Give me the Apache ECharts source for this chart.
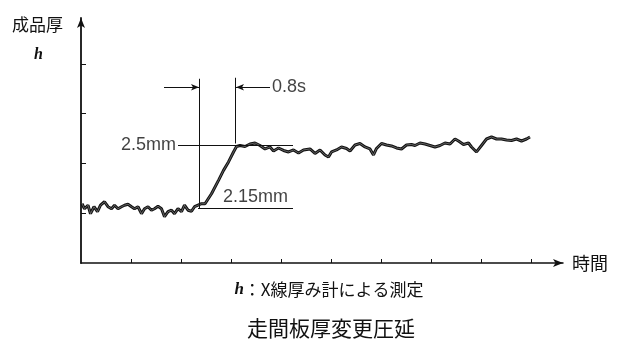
<!DOCTYPE html>
<html><head><meta charset="utf-8">
<script src="https://cdn.jsdelivr.net/npm/echarts@6/dist/echarts.min.js"></script>
<style>html,body{margin:0;padding:0;background:#fff}#c{width:640px;height:342px}</style>
</head><body><div id="c"></div>
<script>
// ---- data (abstract units: one axis tick = 1 unit) ----
const timeX = [0.02,0.07,0.14,0.19,0.26,0.33,0.39,0.47,0.54,0.61,0.67,0.74,0.81,0.87,0.94,1.01,1.07,1.14,1.21,1.27,
  1.34,1.41,1.47,1.54,1.61,1.67,1.74,1.81,1.87,1.94,2.01,2.07,2.14,2.21,2.27,2.34,2.41,
  2.48,2.61,2.75,2.85,2.95,3.05,3.11,3.18,3.28,3.38,3.48,3.58,3.68,3.78,3.85,3.95,4.05,4.15,4.25,4.35,4.45,
  4.58,4.68,4.78,4.88,4.95,5.01,5.11,5.21,5.31,5.38,5.48,5.58,5.68,5.78,5.85,5.91,6.01,6.11,6.21,6.31,6.41,6.51,6.61,
  6.68,6.78,6.88,6.98,7.08,7.18,7.28,7.38,7.48,7.55,7.65,7.75,7.81,7.91,8.01,8.11,8.21,8.31,8.41,8.51,8.61,8.71,8.81,8.91,8.98];
const thickness = [1.19,1.09,1.16,0.99,1.13,1.03,1.16,1.23,1.13,1.09,1.16,1.09,1.13,1.16,1.18,1.13,1.09,1.13,0.99,1.09,
  1.13,1.06,1.09,1.14,1.09,0.93,1.03,1.06,0.99,1.09,1.03,1.16,1.06,1.04,1.13,1.16,1.19,
  1.19,1.39,1.66,1.86,2.03,2.23,2.34,2.36,2.34,2.39,2.41,2.36,2.29,2.33,2.25,2.31,2.26,2.23,2.27,2.21,2.27,
  2.29,2.20,2.27,2.17,2.13,2.23,2.27,2.33,2.30,2.25,2.37,2.40,2.33,2.29,2.17,2.30,2.40,2.37,2.35,2.31,2.29,2.37,2.38,
  2.36,2.41,2.39,2.36,2.33,2.36,2.41,2.39,2.49,2.45,2.38,2.41,2.33,2.23,2.36,2.49,2.53,2.49,2.49,2.47,2.46,2.49,2.45,2.49,2.53];
const xTicks = [1,2,3,4,5,6,7,8,9];
const yTicks = [1,2,3,4];
const xMax = 9.64, yMax = 4.92;

// annotation guide lines (data units)
const guideV1 = [[2.37,3.70],[2.37,1.10]];
const guideV2 = [[3.08,3.72],[3.08,2.40]];
const arrowLeft = [[1.66,3.53],[2.36,3.53]];
const arrowRight = [[3.78,3.53],[3.10,3.53]];
const level25 = [[1.94,2.36],[4.24,2.36]];
const level215 = [[2.34,1.10],[4.24,1.10]];
const annTexts = ['2.5mm','2.15mm','0.8s'];
const annPos = [[1.92,2.36],[3.49,1.32],[3.80,3.53]];

const yName = '成品厚', yVar = 'h', xName = '時間';
const caption = '：X線厚み計による測定';
const titleText = '走間板厚変更圧延';

const lineData = timeX.map((x,i)=>[x, thickness[i]]);
const seg = (p, arrow) => [
  {coord:p[0], symbol:'none'},
  {coord:p[1], symbol: arrow ? 'arrow' : 'none', symbolSize:[5,8]}
];
const latin = 'Liberation Sans, Arial, sans-serif';
const cjk = '"Noto Sans CJK JP", sans-serif';

const chart = echarts.init(document.getElementById('c'), null, {renderer:'canvas'});
chart.setOption({
  animation:false,
  backgroundColor:'#fff',
  grid:{left:81, right:77, top:18, bottom:79},
  title:[
    {text:'{h|h}'+caption, left:324, top:276, textAlign:'center',
     textStyle:{fontFamily:cjk, fontSize:17, fontWeight:'normal', color:'#111',
       rich:{h:{fontFamily:'"Liberation Serif", serif', fontStyle:'italic', fontWeight:'bold', fontSize:17, color:'#111'}}}},
    {text:titleText, left:326, top:313, textAlign:'center',
     textStyle:{fontFamily:cjk, fontSize:21, fontWeight:'normal', color:'#111'}}
  ],
  graphic:[
    {type:'text', left:12, top:16, style:{text:yName, font:'17px "Noto Sans CJK JP"', fill:'#111'}},
    {type:'text', left:34, top:47, style:{text:yVar, font:'italic bold 16px "Liberation Serif"', fill:'#111'}}
  ],
  xAxis:{type:'value', min:0, max:xMax,
    name:xName, nameLocation:'end', nameGap:9,
    nameTextStyle:{fontFamily:cjk, fontSize:18, color:'#111'},
    axisLine:{show:true, onZero:false, symbol:['none','arrow'], symbolSize:[6,10],
      lineStyle:{color:'#111', width:1.5}},
    axisTick:{show:true, inside:true, length:4, customValues:xTicks, lineStyle:{color:'#111', width:1}},
    axisLabel:{show:false}, splitLine:{show:false}},
  yAxis:{type:'value', min:0, max:yMax,
    axisLine:{show:true, onZero:false, symbol:['none','arrow'], symbolSize:[6,10],
      lineStyle:{color:'#111', width:1.8}},
    axisTick:{show:true, inside:true, length:5, customValues:yTicks, lineStyle:{color:'#111', width:1}},
    axisLabel:{show:false}, splitLine:{show:false}},
  series:[
    {type:'line', data:lineData, showSymbol:false, smooth:false, z:3,
     lineStyle:{color:'#111', width:3},
     markLine:{silent:true, symbol:'none', label:{show:false},
       lineStyle:{color:'#111', width:1, type:'solid'},
       data:[seg(guideV1,false), seg(guideV2,false), seg(level25,false), seg(level215,false),
             seg(arrowLeft,true), seg(arrowRight,true)]}},
    {type:'line', data:lineData, showSymbol:false, z:4,
     lineStyle:{color:'#888', width:0.7}},
    {type:'scatter', symbolSize:0, z:5, silent:true,
     data:annPos.map((p,i)=>({value:[p[0],p[1]],
        label:{show:true, formatter:annTexts[i],
          position: i===0 ? 'left' : (i===1 ? 'inside' : 'right'), distance:1,
          fontFamily:latin, fontSize:18, color:'#111'}}))}
  ]
});
</script></body></html>
